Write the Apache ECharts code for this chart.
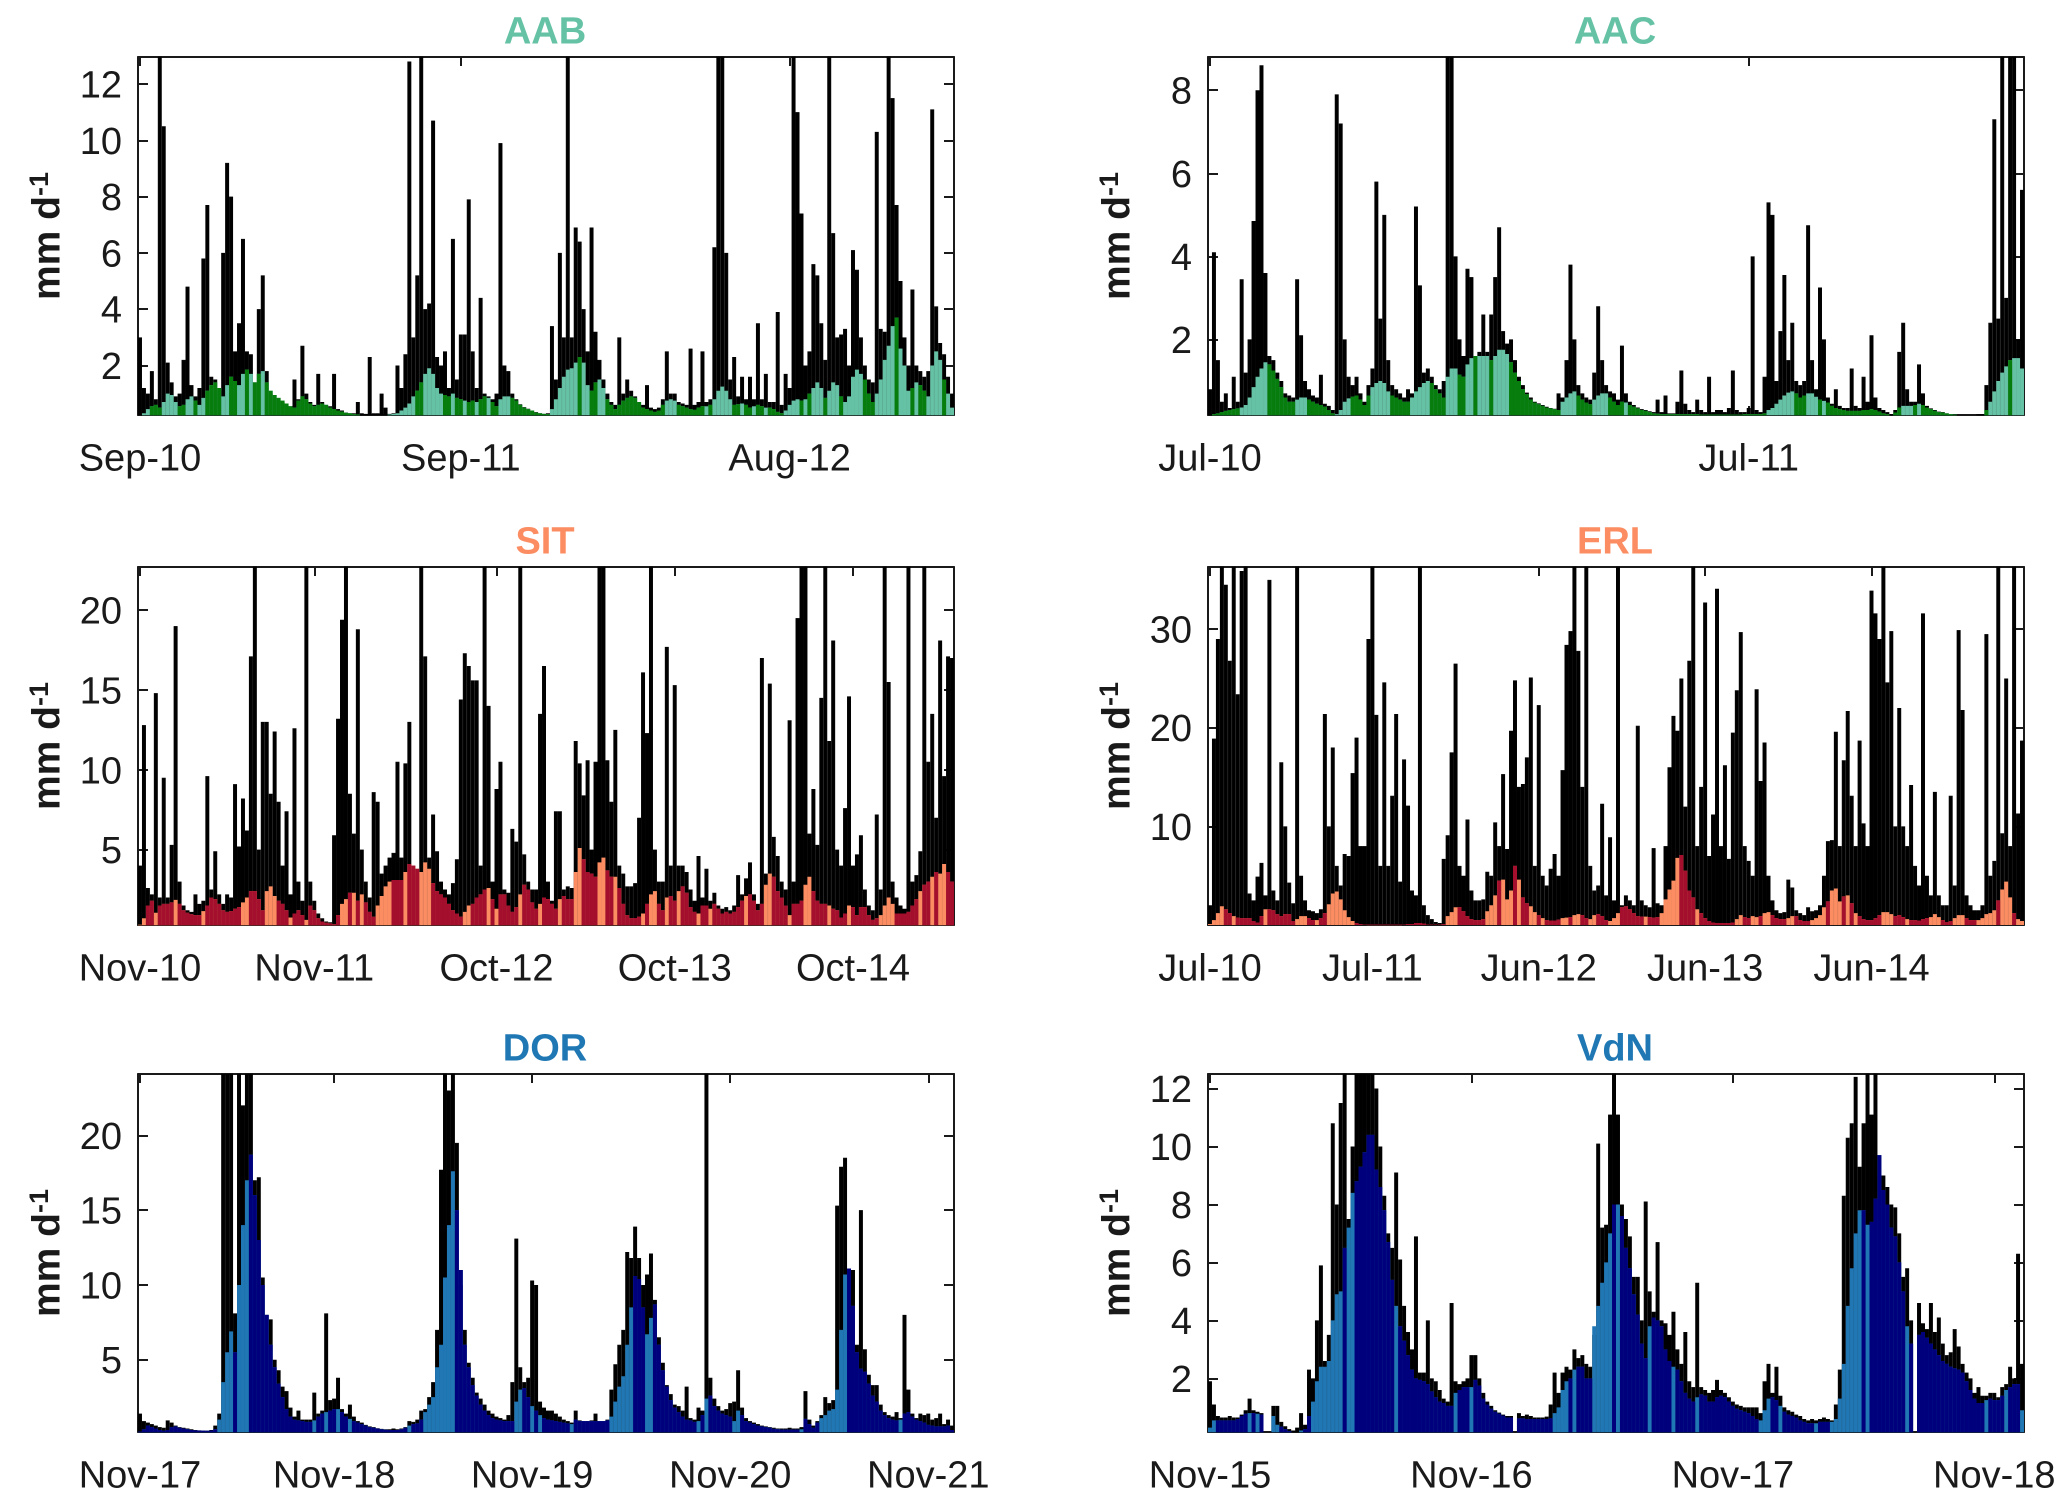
<!DOCTYPE html>
<html><head><meta charset="utf-8">
<style>html,body{margin:0;padding:0;background:#fff}#c{width:2067px;height:1507px}</style>
<script src="https://cdn.jsdelivr.net/npm/echarts@6/dist/echarts.min.js"></script>
</head><body><div id="c"></div>
<script>
const aabTickLabels=['Sep-10','Sep-11','Aug-12'];
const aabTickSlots=[0,81,164];
const aabYTicks=[2,4,6,8,10,12];
const aabPrecip=[
3.0,1.2,1.0,1.8,.8,14,10.5,2.1,1.4,.9,
1.0,2.2,4.8,1.3,.9,1.2,5.8,7.7,1.6,1.5,
1.1,6,9.2,8,2.5,3.5,6.5,2.5,2.4,1.4,
4,5.2,1.8,1.0,.85,.75,.7,.65,.55,1.5,
.8,2.7,1.0,.7,.6,1.7,.7,.6,.55,1.7,
.45,.4,.33,.3,.3,.7,.3,.28,2.3,.3,
.3,1.0,.5,.28,.3,2.0,1.2,2.4,12.8,3,
5.2,14,4,4.2,10.7,2.3,2,2.5,1.2,6.5,
1.5,3.1,3.1,7.9,2.5,1.2,4.4,1.0,.9,.8,
1,9.9,2,1.8,1,.8,.62,.52,.46,.4,
.34,.3,.28,.3,3.4,1.5,6,3,14,3,
6.9,6.4,4,2.5,6.9,3.2,2.2,1.5,1,.7,
.6,3,1.0,1.5,1.1,.9,.7,.6,1.3,.5,
.45,.5,.8,2.5,1,1,.7,.65,.6,2.6,
.6,.7,2.5,.7,.8,6.2,14,14,6,1.5,
2.3,.9,1.6,.8,1.6,.8,3.5,.8,1.7,.7,
.7,3.9,.6,1.7,1.2,14,11,7.4,2,2.5,
5.6,5.2,3.5,2.2,14,6.7,3,3.1,3.3,2,
6.1,5.4,3,2,1.5,1.4,10.3,3.3,3.2,14,
11.5,7.7,5,3,2,4.7,2,1.8,1.6,1.8,
11.1,4.1,2.8,2.4,1.6,1.0];
const aabFlow=[
.24,.3,.45,.55,.6,.5,.7,1.0,.95,.7,
.55,.6,.8,.9,.75,.6,.85,1.1,1.3,1.4,
1.2,.9,1.3,1.6,1.45,1.3,1.7,1.85,1.7,1.4,
1.7,1.8,1.4,1.1,.95,.85,.75,.65,.55,.5,
.75,.9,.8,.65,.55,.6,.65,.6,.5,.45,
.4,.36,.32,.3,.27,.26,.25,.25,.25,.25,
.25,.25,.25,.26,.28,.3,.4,.5,.65,.9,
1.1,1.4,1.7,1.9,1.7,1.2,1.0,.95,.9,1.0,
.85,.8,.75,.7,.75,.7,.8,.9,.85,.7,
.55,.8,.9,.9,.85,.75,.6,.5,.45,.4,
.33,.3,.28,.27,.45,.8,1.2,1.6,1.85,1.9,
2.1,2.3,2.1,1.3,1.1,1.4,1.5,1.2,.8,.6,
.45,.6,.75,.85,.9,.85,.7,.5,.45,.4,
.35,.4,.6,.75,.8,.75,.6,.55,.5,.45,
.42,.5,.55,.55,.6,.8,1.1,1.25,1.1,.8,
.6,.62,.65,.6,.5,.55,.6,.55,.5,.5,
.45,.35,.3,.4,.6,.75,.8,.75,.8,1.0,
1.2,1.4,1.2,.85,1.1,1.4,1.3,.9,.7,.9,
1.6,1.85,1.7,1.5,1.0,.7,1.0,1.5,2.2,2.7,
3.4,3.7,2.6,2.0,1.1,1.2,1.4,1.3,1.1,.9,
2.0,2.5,2.2,1.5,1.0,.5];
const aabLight=[[0,2],[6,9],[12,13],[15,16],[21,22],[25,26],[28,28],[31,31],[63,69],[72,76],[79,79],[82,82],[85,85],[88,88],[91,93],[104,110],[112,113],[116,117],[133,135],[143,143],[145,149],[152,152],[155,155],[158,158],[163,166],[168,168],[170,172],[174,176],[178,182],[186,190],[192,194],[196,196],[199,202],[204,205]];

const aacTickLabels=['Jul-10','Jul-11'];
const aacTickSlots=[0,136];
const aacYTicks=[2,4,6,8];
const aacPrecip=[
.8,4.1,1.5,.5,.7,.35,1.1,.5,3.45,1.2,
2,4.85,8,8.6,3.6,1.6,1.5,1.2,1,.7,
.65,.6,3.45,2.1,1,.8,.65,.6,1.15,.45,
.4,.3,7.9,7.2,2,1.1,.9,1.1,.7,.5,
.9,1.3,5.8,2.5,5,1.5,.9,.8,.7,.6,
.8,.7,5.2,3.3,1.2,1.3,1.1,.9,.8,1,
10,10,4,2,1.6,3.7,3.5,1.6,1.7,2.6,
1.7,2.6,3.5,4.7,2.2,1.9,2.0,1.5,1.1,.9,
.72,.6,.5,.46,.42,.38,.35,.33,.7,.6,
1.5,3.8,2,.9,.7,.6,.55,1.2,2.8,1.5,
.9,.75,.7,.55,1.85,.7,.5,.42,.36,.32,
.3,.27,.25,.55,.25,.65,.22,.22,.5,1.25,
.45,.3,.25,.55,.3,.25,1.1,.25,.3,.3,
.25,.35,1.25,.3,.25,.25,.35,4.0,.3,.25,
1.1,5.3,5,1,2.2,3.55,1.5,2.4,1,.9,
1,4.75,1.5,.8,3.25,2,.6,.45,.8,.4,
.35,.35,1.3,.4,.35,1.1,.5,2.1,.6,.35,
.3,.25,.2,.3,1.7,2.4,.8,.5,.5,1.4,
.7,.4,.34,.3,.26,.25,.22,.2,.19,.18,
.18,.18,.18,.18,.2,.2,.9,2.4,7.3,2.5,
10,3,10,10,2,5.6];
const aacFlow=[
.18,.2,.22,.25,.28,.3,.32,.34,.36,.42,
.6,.85,1.1,1.3,1.45,1.4,1.25,1.05,.85,.6,
.5,.5,.55,.6,.6,.55,.5,.45,.42,.38,
.3,.22,.2,.3,.5,.58,.62,.65,.55,.42,
.65,.85,.95,1.0,.95,.75,.65,.6,.55,.5,
.5,.6,.75,.85,.95,1.0,.95,.8,.7,.6,
1.1,1.3,1.3,1.15,1.1,1.4,1.55,1.6,1.6,1.6,
1.6,1.5,1.6,1.75,1.75,1.65,1.45,1.2,1.0,.8,
.68,.55,.48,.44,.4,.36,.34,.32,.3,.5,
.6,.7,.75,.65,.55,.48,.44,.55,.65,.7,
.7,.6,.5,.42,.5,.48,.42,.38,.34,.3,
.28,.25,.22,.21,.2,.2,.2,.2,.2,.2,
.2,.2,.2,.2,.19,.19,.19,.19,.19,.19,
.19,.19,.19,.19,.19,.2,.2,.2,.2,.2,
.22,.3,.35,.45,.55,.65,.72,.75,.7,.6,
.65,.7,.7,.62,.55,.52,.48,.4,.35,.32,
.3,.28,.28,.28,.28,.3,.3,.32,.3,.26,
.22,.2,.18,.24,.36,.4,.4,.4,.42,.45,
.42,.36,.32,.28,.25,.24,.22,.2,.19,.18,
.18,.18,.18,.18,.18,.18,.3,.5,.75,1.0,
1.2,1.35,1.5,1.55,1.55,1.3];
const aacLight=[[8,14],[22,24],[32,35],[41,45],[51,55],[60,62],[65,66],[68,70],[72,75],[89,92],[97,100],[105,105],[141,147],[151,153],[155,155],[175,177],[179,179],[197,201],[203,205]];

const sitTickLabels=['Nov-10','Nov-11','Oct-12','Oct-13','Oct-14'];
const sitTickSlots=[0,44,90,135,180];
const sitYTicks=[5,10,15,20];
const sitPrecip=[
4,12.8,2.6,2.2,14.8,2,9.5,2,5.3,19,
3,1.5,1.2,1.1,2.2,1.6,1.8,9.6,2.5,4.9,
2.2,1.6,2.2,2,9.1,5.2,8.2,6.2,17.1,24,
5,13,13,8.5,12.4,8,4,7.4,2.2,12.6,
3,1.8,24,3,1.8,1,.7,.5,.45,5.9,
13.2,19.4,24,8.5,6,18.8,5,3,2,8.6,
8,3.5,4,4.5,4.8,10.5,4.5,10.4,13,4,
3.5,24,17.1,4.5,7.2,4.9,3,2.5,2.2,2.9,
4.4,14.4,17.3,16.5,15.6,15.6,4,24,14,3,
8.8,10.5,2.5,2.3,6.3,5.5,24,4.7,3,2.5,
2.5,13.5,16.5,3,1.8,7.4,7.4,2.5,2.7,2.6,
11.8,10.4,8.4,10.6,5,10.5,24,24,10.6,8,
12.5,4,3.5,2.7,2.7,2.9,7,16.1,12.3,24,
5,3,3,17.7,4,15.3,4,4,3.6,2.5,
1.8,4.6,2,3.8,1.8,2.3,1.5,1.3,1.4,1.2,
1.5,3.4,2.2,3.2,4.2,2.2,1.6,17,3.5,15.4,
5.8,4.6,3,2.5,13.1,3,19.5,24,24,6,
8.8,5.3,14.5,24,11.8,18.1,5,4,7.6,14.6,
4,4.7,5.9,2.5,1.5,1.2,7.2,2.5,24,15.5,
3,2,1.5,1.3,24,3,3.4,4.9,24,10.5,
13.5,7,18.1,9.6,17.1,17];
const sitFlow=[
.3,.7,1.5,1.8,1.05,1.5,1.6,1.6,1.7,1.85,
1.6,1.2,1.05,.95,.9,.9,1.15,1.5,2.0,1.9,
1.6,1.2,1.1,1.15,1.3,1.4,1.7,2.0,2.4,2.4,
1.9,1.2,2.4,2.7,2.1,1.8,1.6,1.2,.75,1.0,
1.2,.9,.6,1.5,1.2,.7,.5,.42,.38,.33,
.9,1.6,1.9,2.3,2.3,1.8,2.2,1.7,1.1,.8,
1.5,2.1,2.7,3,3.1,3.1,3.1,3.6,4.1,4.0,
3.8,3.6,4.2,3.8,2.9,2.4,2.2,2.0,1.6,1.2,
1,.8,1.1,1.5,1.6,2.0,2.2,2.5,2.6,1.9,
1.3,2.2,2.2,1.5,1.1,1.4,2.2,2.8,2.5,1.7,
1.3,1.6,2.0,1.9,1.6,1.3,1.9,2.1,1.9,1.9,
3.6,5.1,4.4,3.6,3.5,3.3,4.2,4.5,3.7,3.3,
3.3,2.6,1.6,.9,.7,.72,.8,1,1.6,2.2,
2.4,1.6,1.2,2.0,2.1,1.8,2.4,2.7,2.3,1.4,
1.1,1.0,1.5,1.5,1.3,1.6,1.3,1.0,1.1,1.0,
1.1,1.4,1.8,2.1,2.2,1.8,1.2,1.6,2.8,3.5,
3.3,2.4,2.0,1.5,.9,1.6,1.6,1.8,2.8,3.3,
2.4,1.8,1.6,1.6,1.5,1.3,1.2,.75,1.0,1.5,
1.4,.9,1.4,1.4,.9,.6,.7,.9,1.5,2.0,
1.6,1.0,1.0,1.0,1.1,1.5,1.9,2.4,2.8,3.0,
3.3,3.6,3.5,4.1,3.6,3.0];
const sitLight=[[0,1],[4,4],[9,9],[16,16],[26,27],[32,33],[34,34],[38,38],[42,42],[51,52],[54,54],[56,56],[60,63],[67,67],[71,73],[82,83],[88,88],[90,90],[96,96],[101,101],[106,106],[110,111],[116,117],[120,120],[127,127],[129,130],[133,133],[136,136],[141,141],[144,144],[153,153],[158,159],[164,164],[168,169],[174,174],[179,179],[187,190],[197,197],[200,200],[202,203]];

const erlTickLabels=['Jul-10','Jul-11','Jun-12','Jun-13','Jun-14'];
const erlTickSlots=[0,41,83,125,167];
const erlYTicks=[10,20,30];
const erlPrecip=[
2,18.9,29,37,34.5,26.8,37,23.4,35.9,37,
3.2,2.5,4.9,6.3,3,35,3.5,2.5,16.5,10,
4.3,2.2,37,5,2.5,1.5,1.4,1.2,1.6,21.4,
10,18,6,4,7.2,7,15.4,19,8,8,
29,37,21.3,6,24.6,6,13.1,21.4,4.4,16.8,
12.1,3.5,3,37,2,1,.6,.3,.2,6.7,
9.1,17.5,26.5,6,5,10.7,3.5,2.5,2.5,2.6,
5.4,5,10.4,8,15.3,7.7,19.7,24.8,14,14.3,
17,25.1,6,22.3,5,4,5.7,7.2,5,15.7,
28.4,29.8,37,27.8,14,37,6,3.5,4,12.3,
3,8.9,2.5,37,2,3,2.5,2,20.2,2.5,
2,1.8,7.8,2.2,2,8,16,21.2,19.7,25,
12,26.8,37,8,14,32.7,7,11.2,34.1,8,
16.2,6.7,19.5,23.8,29.7,8,6.5,5,23.9,14.6,
18.5,5,2.5,1.5,1.2,1.3,4.6,3.8,1.5,1.2,
1,1.8,1.4,1.5,2,5,8.5,8.6,19.6,8,
16.7,21.7,13.1,8,18.7,10.3,8,33.9,31.6,29,
37,24.6,29.8,10,22,10,8,14.2,6,4,
31.6,5,3,13.5,3,2,2,13.1,4,29.9,
21.8,3,2,1.5,1.5,2,29.5,5,6.5,37,
9.3,25,8,37,11.3,18.7];
const erlFlow=[
.1,.5,1.2,1.9,1.6,1.2,.9,.75,.7,.7,
.7,.4,.25,.9,1.6,1.6,1.5,1.1,.9,1.1,
1.1,.4,.6,.9,.9,.7,.5,.5,.7,1.2,
2.1,3.2,3.4,2.6,1.5,.8,.4,.2,.1,.05,
.03,.03,.03,.03,.03,.03,.03,.03,.03,.05,
.1,.1,.2,.2,.15,.05,.05,.05,.05,.1,
.9,1.3,1.8,1.8,1.4,.9,.6,.5,.5,.6,
1.4,2.0,3.0,4.5,4.6,2.6,3.5,6,4.6,2.8,
2.2,1.9,1.3,1.0,.7,.5,.45,.45,.55,.7,
.75,.8,1.0,1.1,1.0,.7,.6,1,1.1,.9,
.5,.4,.7,1.2,1.8,1.9,1.6,1.2,.9,.85,
.85,.8,.75,.8,1.2,2.6,3.6,4.5,6.8,7.1,
5.5,3.5,2.8,1.6,1.2,.7,.4,.25,.2,.2,
.2,.2,.25,.6,1,.8,.7,.9,.8,.9,
1.2,1.3,1,.7,.6,.6,.7,.9,.9,.5,
.4,.4,.5,.7,1.0,1.8,2.4,3.5,3.7,2.4,
2.9,3,2.2,1.2,.9,.6,.5,.5,.7,1.0,
1.3,1.3,1.1,.9,1.0,.8,.6,.5,.5,.45,
.6,.7,.8,1.1,.8,.5,.3,.4,.7,1.0,
1.0,.7,.5,.5,.5,.7,1.1,1.2,1.5,2.5,
3.6,4.4,2.8,1.2,.6,.4];
const erlLight=[[0,3],[6,6],[14,14],[22,24],[27,27],[30,36],[60,62],[70,72],[74,76],[78,78],[81,82],[84,84],[89,90],[92,93],[96,97],[101,103],[110,110],[114,118],[123,123],[133,134],[137,138],[140,141],[146,147],[152,155],[157,159],[161,161],[163,163],[170,172],[176,176],[182,184],[188,190],[194,198],[200,202],[204,205]];

const dorTickLabels=['Nov-17','Nov-18','Nov-19','Nov-20','Nov-21'];
const dorTickSlots=[0,49,99,149,199];
const dorYTicks=[5,10,15,20];
const dorPrecip=[
1.4,.9,.8,.7,.6,.5,.45,.95,.8,.6,
.5,.45,.4,.35,.3,.28,.27,.26,.3,.6,
1.4,30,30,30,8.1,30,22,30,30,17,
17.2,10.5,8,7.7,5,4.3,3.2,2.9,1.8,1.2,
1.6,1.0,1.0,1.0,2.8,1.4,1.6,8.1,2.3,2.4,
3.8,1.7,1.4,2,1.2,.9,.8,.65,.55,.5,
.42,.38,.35,.35,.4,.35,.4,.5,.9,.85,
1.0,1.6,1.7,2.5,3.5,7,17.7,30,23,30,
19.5,10,7,4.8,3.8,2.8,2.4,2,1.6,1.4,
1.2,1.1,1.0,1.3,3.5,13.1,4.5,3.5,3.8,10.3,
10,2.2,1.8,1.6,1.6,1.4,1.2,1.0,.9,.8,
1.6,.95,.9,.9,.95,1.4,.9,.9,1,3,
4.7,6,7,12.2,11.8,13.9,11.8,10,10.7,12.1,
9,6.5,4.8,3.3,2.7,2,1.9,1.6,3.2,1.1,
1,1.8,1.6,30,3.8,2.4,1.9,1.6,1.7,2.1,
2.2,4.3,1.8,1.1,.9,.8,.7,.6,.55,.5,
.45,.4,.4,.4,.45,.4,.4,.5,2.9,1.0,
.6,.9,1.3,2.5,2.1,2.3,15.3,17.9,18.5,11,
11,6,15,5.7,4,3.3,3.3,2,1.5,1.3,
1.2,1.5,1.1,8,3,1.4,1.1,1.4,1.3,1.4,
1,1.1,1.4,.7,1,.6];
const dorFlow=[
.2,.35,.6,.5,.4,.3,.25,.3,.5,.55,
.45,.4,.35,.3,.28,.27,.26,.25,.27,.35,
1.0,3.5,5.5,6.9,5.5,10,14,17,18.7,16,
13,10,8,6,4.5,3.4,2.5,1.7,1.2,1.0,
.95,.9,.85,.85,.95,1.2,1.4,1.5,1.6,1.7,
1.7,1.5,1.2,1.05,.9,.8,.7,.6,.5,.45,
.4,.35,.32,.3,.3,.3,.35,.45,.6,.7,
.75,1.0,1.5,2.0,2.5,4.5,6,10.5,14,17.6,
15,11,6,4.5,3.3,2.6,2,1.6,1.3,1.1,
1,.95,.9,.9,.9,2.2,3,3.1,2.5,1.9,
1.6,1.3,1.1,1.0,.95,.9,.85,.8,.75,.7,
1.0,.9,.9,.9,.9,.9,.9,.9,.95,1.2,
2.2,3.2,3.9,6,8.5,10.6,10.4,8.5,6.7,7.8,
8.7,6,4.3,3.2,2.3,1.8,1.5,1.2,1.0,.95,
.85,.9,1.3,2.4,2.6,1.9,1.6,1.4,1.3,1.2,
.9,1.6,1.3,.9,.8,.7,.6,.55,.5,.45,
.38,.35,.33,.33,.33,.33,.33,.35,1.05,.7,
.45,.8,1.1,1.3,1.6,1.7,3,7,10.7,11.1,
8.6,5.5,4.4,4.2,3.4,2.6,2.2,1.6,1.3,1.1,
1.0,.95,1.0,1.4,1.5,1.2,1.0,.9,.8,.65,
.6,.55,.55,.55,.6,.3];
const dorLight=[[20,23],[25,27],[44,44],[47,47],[50,50],[53,53],[68,68],[72,79],[95,96],[99,99],[101,101],[109,109],[119,124],[128,129],[141,141],[143,143],[150,151],[167,167],[172,174],[175,178],[192,192]];

const vdnTickLabels=['Nov-15','Nov-16','Nov-17','Nov-18'];
const vdnTickSlots=[0,66,132,198];
const vdnYTicks=[2,4,6,8,10,12];
const vdnPrecip=[
1.9,1.1,.7,.65,.65,.7,.65,.65,.75,.9,
1.3,.9,.85,.8,0,0,1.05,1.05,.5,.35,
.25,.2,.3,.8,.4,2.3,2,4,5.9,2.6,
3.5,10.8,8,11.5,13,7.5,10,13,13,13,
13,13,12,10,8.3,7,6.5,9.1,6.1,4.5,
3.6,3,6.9,2.2,2.2,4,2,1.9,1.6,1.3,
1.2,4.6,1.9,1.8,1.9,2,2.8,2.8,2,1.5,
1.2,1.05,.9,.82,.75,.7,.7,0,.8,.7,
.75,.7,.65,.65,.65,.68,1.1,2.2,1.5,2.2,
2.4,2.3,3,2.7,2.8,2.5,2.4,3.5,10.1,7.2,
7.3,11.1,13,11.1,8,7.5,6.9,5.5,5.5,4,
8.1,5,4.3,6.7,4,3.9,3.5,4.3,3,2.5,
3.6,1.9,1.7,5.3,1.7,1.6,1.5,1.6,1.95,1.6,
1.5,1.35,1.2,1.1,1.05,1,1,1,1,.8,
1.9,2.5,1.5,2.4,1.4,1.0,.9,.85,.75,.7,
.6,.55,.6,.55,.6,.65,.6,.55,1.1,2.3,
8.3,10.3,10.8,12.4,9.3,10.8,13,11.1,13,9,
9,8.6,8,7.9,7,5.5,5.8,4,0,4.6,
3.9,3.7,4.6,3.6,4.1,3.2,2.8,2.9,3.7,3.1,
2.5,2.2,2,1.5,1.7,1.4,1.4,1.5,1.5,1.35,
1.7,1.8,2.4,2,6.3,2.5];
const vdnFlow=[
.3,.55,.55,.55,.55,.55,.55,.6,.7,.78,
.8,.8,.78,.75,0,0,.7,.4,.33,.25,
.18,.16,.16,.2,.25,.7,1.2,1.9,2.4,2.4,
2.6,4,4.9,5,6.5,7.2,8.4,8.8,9.3,9.8,
10.4,10.4,9.2,8.6,7.8,6.7,5.4,4.5,3.8,3.3,
2.8,2.3,2.0,1.95,1.9,1.8,1.55,1.35,1.2,1.15,
1.05,1.05,1.5,1.6,1.7,1.7,1.7,1.95,1.75,1.3,
1.1,.95,.85,.78,.72,.65,.65,0,.62,.62,
.6,.6,.6,.6,.6,.6,.62,.8,1,1.6,
1.9,2,2.3,2.4,2.4,2,2,3.8,4.5,5.3,
6,7,8,8,7.6,6.5,5.8,4.9,4.2,3.2,
2.7,3.8,4.1,4,3.8,3,2.6,2.4,2.3,1.9,
1.5,1.3,1.2,1.35,1.45,1.4,1.2,1.2,1.35,1.4,
1.35,1.2,1.05,.95,.9,.85,.8,.7,.6,.55,
.9,1.3,1.35,1.25,1.05,.85,.75,.7,.65,.55,
.5,.45,.45,.45,.5,.5,.5,.5,.6,1.3,
2.5,4.5,5.8,7,7.8,7.8,7.3,7.4,8.2,9.7,
8.5,8,7.2,6.9,6,5,3.8,3.2,0,3.5,
3.6,3.4,3.2,3,2.8,2.6,2.5,2.4,2.35,2.3,
2.2,1.9,1.6,1.3,1.15,1.15,1.25,1.3,1.25,1.25,
1.4,1.6,1.7,1.8,1.8,.9];
const vdnLight=[[0,1],[10,10],[12,12],[16,17],[22,23],[26,31],[32,33],[35,35],[36,36],[47,47],[62,62],[66,66],[87,90],[92,92],[97,101],[103,103],[111,111],[117,117],[123,123],[139,141],[144,144],[153,153],[157,164],[166,166],[176,176],[196,196],[201,201],[205,205]];

const panels=[
 {name:'AAB',title:'#66c2a5',light:'#66c2a5',dark:'#077d0e',left:138,top:57,min:.24,max:12.96,y:aabYTicks,p:aabPrecip,f:aabFlow,l:aabLight,tl:aabTickLabels,ts:aabTickSlots},
 {name:'AAC',title:'#66c2a5',light:'#66c2a5',dark:'#077d0e',left:1208,top:57,min:.18,max:8.8,y:aacYTicks,p:aacPrecip,f:aacFlow,l:aacLight,tl:aacTickLabels,ts:aacTickSlots},
 {name:'SIT',title:'#fc8d62',light:'#fc8d62',dark:'#a30f2d',left:138,top:567,min:.28,max:22.7,y:sitYTicks,p:sitPrecip,f:sitFlow,l:sitLight,tl:sitTickLabels,ts:sitTickSlots},
 {name:'ERL',title:'#fc8d62',light:'#fc8d62',dark:'#a30f2d',left:1208,top:567,min:0,max:36.3,y:erlYTicks,p:erlPrecip,f:erlFlow,l:erlLight,tl:erlTickLabels,ts:erlTickSlots},
 {name:'DOR',title:'#1f78b4',light:'#2077b4',dark:'#00007d',left:138,top:1074,min:.17,max:24.1,y:dorYTicks,p:dorPrecip,f:dorFlow,l:dorLight,tl:dorTickLabels,ts:dorTickSlots},
 {name:'VdN',title:'#1f78b4',light:'#2077b4',dark:'#00007d',left:1208,top:1074,min:.15,max:12.5,y:vdnYTicks,p:vdnPrecip,f:vdnFlow,l:vdnLight,tl:vdnTickLabels,ts:vdnTickSlots}
];
const W=816,H=358,FONT='"Liberation Sans",Arial,sans-serif';
const option={animation:false,backgroundColor:'#fff',textStyle:{fontFamily:FONT},title:[],grid:[],xAxis:[],yAxis:[],series:[]};
const line={show:true,onZero:false,lineStyle:{color:'#1a1a1a',width:2}};
panels.forEach((c,i)=>{
  option.title.push({text:c.name,left:c.left+W/2-6,top:c.top-48,textAlign:'center',textStyle:{color:c.title,fontSize:38,fontWeight:'bold',fontFamily:FONT}});
  option.grid.push({left:c.left,top:c.top,width:W,height:H,containLabel:false});
  const cats=c.p.map((_,k)=>{const t=c.ts.indexOf(k);return t>=0?c.tl[t]:'';});
  const show=k=>c.ts.indexOf(k)>=0;
  option.xAxis.push({type:'category',gridIndex:i,data:cats,position:'bottom',boundaryGap:true,axisLine:line,
    axisTick:{show:true,inside:true,length:9,alignWithLabel:true,interval:show,lineStyle:{color:'#1a1a1a',width:2}},
    axisLabel:{show:true,interval:show,margin:26,fontSize:38,color:'#1a1a1a',fontFamily:FONT},splitLine:{show:false}});
  option.xAxis.push({type:'category',gridIndex:i,data:cats,position:'top',boundaryGap:true,axisLine:line,
    axisTick:{show:true,inside:true,length:9,alignWithLabel:true,interval:show,lineStyle:{color:'#1a1a1a',width:2}},
    axisLabel:{show:false},splitLine:{show:false}});
  option.yAxis.push({type:'value',gridIndex:i,min:c.min,max:c.max,position:'left',axisLine:line,
    axisTick:{show:true,inside:true,length:10,customValues:c.y,lineStyle:{color:'#1a1a1a',width:2}},
    axisLabel:{show:true,customValues:c.y,margin:16,fontSize:38,color:'#1a1a1a',fontFamily:FONT,verticalAlign:'top',lineHeight:6},splitLine:{show:false},
    name:'{a|mm d}{b|-1}',nameLocation:'middle',nameRotate:90,nameGap:68,
    nameTextStyle:{rich:{a:{fontSize:39,fontWeight:'bold',color:'#1a1a1a',fontFamily:FONT},b:{fontSize:27,fontWeight:'bold',color:'#1a1a1a',fontFamily:FONT,verticalAlign:'top',padding:[0,0,16,0]}}}});
  option.yAxis.push({type:'value',gridIndex:i,min:c.min,max:c.max,position:'right',axisLine:line,
    axisTick:{show:true,inside:true,length:10,customValues:c.y,lineStyle:{color:'#1a1a1a',width:2}},
    axisLabel:{show:false},splitLine:{show:false}});
  const xi=i*2,yi=i*2;
  const isLight=k=>c.l.some(r=>k>=r[0]&&k<=r[1]);
  const base={type:'bar',xAxisIndex:xi,yAxisIndex:yi,barWidth:'100%',barGap:'-100%',silent:true,clip:true};
  const fill=col=>({color:col,borderColor:col,borderWidth:0.6});
  option.series.push(Object.assign({},base,{name:c.name+' P',data:c.p,itemStyle:fill('#000')}));
  option.series.push(Object.assign({},base,{name:c.name+' Q',data:c.f,itemStyle:fill(c.light)}));
  option.series.push(Object.assign({},base,{name:c.name+' Qb',data:c.f.map((v,k)=>isLight(k)?null:v),itemStyle:fill(c.dark)}));
});
echarts.init(document.getElementById('c'),null,{renderer:'canvas',devicePixelRatio:2}).setOption(option);
</script></body></html>
